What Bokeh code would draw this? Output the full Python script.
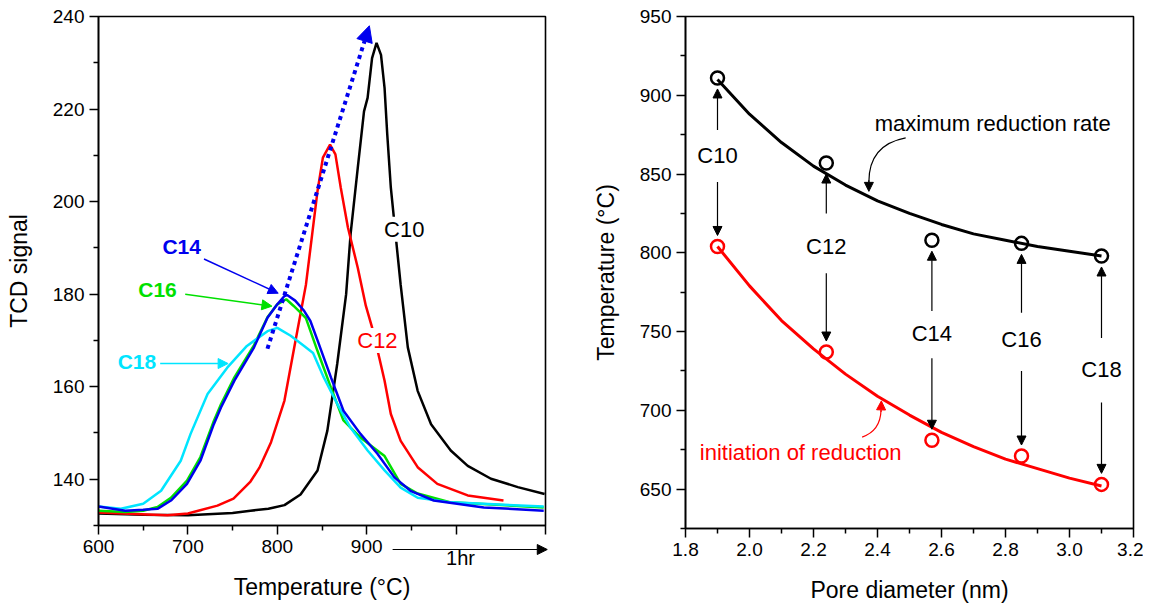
from bokeh.plotting import figure
from bokeh.layouts import row, column
from bokeh.models import Arrow, NormalHead, Label, FixedTicker, PrintfTickFormatter
from bokeh.embed import file_html
from bokeh.resources import INLINE

FONT = "Liberation Sans"

# ---------------- left panel data (TCD profiles) ----------------
c10_T = [600, 650, 700, 750, 770, 790, 808, 826, 845, 856, 867, 877, 882, 890, 897, 901, 906, 911,
         916, 920, 923, 927, 933, 938, 946, 957, 972, 994, 1013, 1039, 1069, 1099]
c10_S = [132.6, 132.3, 132.2, 132.7, 133.2, 133.6, 134.4, 136.7, 141.9, 150.5, 164.9, 180, 193, 207.3,
         219.5, 222.4, 231, 234.3, 231.7, 224.5, 214.5, 203, 191.5, 182, 168.5, 159.1, 151.9, 146.2,
         142.9, 140.1, 138.3, 136.8]

c12_T = [600, 640, 677, 700, 733, 751, 770, 780, 793, 808, 819, 832, 839, 845, 851, 859, 865, 871,
         879, 890, 899, 906, 914, 920, 927, 938, 957, 979, 1013, 1053]
c12_S = [132.8, 132.5, 132.2, 132.6, 134.3, 135.8, 139.5, 142.5, 148, 157, 168.5, 182, 192.9, 202.3,
         209.5, 212.3, 210.2, 203, 194.4, 185.7, 177.5, 172.8, 166.3, 161.3, 154.1, 148.3, 142.6,
         139, 136.5, 135.4]

c14_T = [600, 630, 650, 666, 681, 699, 714, 729, 737, 752, 774, 789, 800, 808, 811, 820, 830, 837,
         845, 860, 874, 893, 912, 931, 949, 975, 1031, 1098]
c14_S = [134.1, 133.2, 133.4, 133.6, 135.4, 139, 144, 151.9, 155.5, 161.3, 168.5, 174.9, 177.8, 179.6,
         179.8, 178.6, 176.4, 174.2, 170, 162, 154.8, 149.8, 145.5, 140.4, 137.5, 135.4, 133.9, 133.2]

c16_T = [600, 630, 650, 666, 681, 699, 714, 729, 737, 752, 774, 789, 800, 810, 818, 826, 832, 845,
         860, 874, 893, 910, 920, 938, 957, 994, 1098]
c16_S = [133.2, 132.9, 133.2, 134, 136, 139.7, 144.8, 152.6, 156.2, 162, 169, 175, 177.8, 178.9,
         177.5, 176, 174.8, 167.7, 159.8, 152.7, 149, 146.5, 145, 139, 136.9, 135, 133.9]

c18_T = [600, 625, 650, 670, 692, 703, 722, 744, 766, 789, 800, 815, 830, 840, 852, 867, 882, 901,
         920, 938, 957, 994, 1098]
c18_S = [134.1, 133.6, 134.7, 137.5, 144, 149.8, 158.4, 164.1, 168.8, 172, 172.7, 171, 168.8, 167.3,
         162, 156.3, 151.1, 146.2, 141.9, 138.2, 136, 135, 134.1]

left_xticks = [600, 700, 800, 900, 1000, 1100]
left_xminor = [650, 750, 850, 950, 1050]
left_yticks = [140, 160, 180, 200, 220, 240]
left_yminor = [130, 150, 170, 190, 210, 230]

# ---------------- right panel data ----------------
pore = [1.9, 2.24, 2.57, 2.85, 3.1]
t_max = [911, 857, 808, 806, 798]
t_init = [804, 737, 681, 671, 653]
samples = ["C10", "C12", "C14", "C16", "C18"]

fit_x = [1.9, 2.0, 2.1, 2.2, 2.3, 2.4, 2.5, 2.6, 2.7, 2.8, 2.9, 3.0, 3.1]
fit_max = [910, 888, 870, 855, 843, 833, 825, 818, 812, 808, 804, 801, 798]
fit_init = [804, 779, 757, 739, 723, 709, 697, 686, 677, 669, 663, 657, 652]

right_xticks = [1.8, 2.0, 2.2, 2.4, 2.6, 2.8, 3.0, 3.2]
right_xminor = [1.9, 2.1, 2.3, 2.5, 2.7, 2.9, 3.1]
right_yticks = [650, 700, 750, 800, 850, 900, 950]
right_yminor = [625, 675, 725, 775, 825, 875, 925]


def style(p):
    p.xgrid.visible = False
    p.ygrid.visible = False
    p.outline_line_color = "black"
    p.outline_line_width = 1.6
    p.outline_line_alpha = 1
    p.background_fill_color = "white"
    p.border_fill_color = "white"
    for ax in (p.xaxis[0], p.yaxis[0]):
        ax.axis_line_width = 1.6
        ax.major_tick_line_width = 1.5
        ax.minor_tick_line_width = 1.5
        ax.major_tick_in = 0
        ax.major_tick_out = 9
        ax.minor_tick_in = 0
        ax.minor_tick_out = 5
        ax.major_label_text_font = FONT
        ax.major_label_text_font_size = "19px"
        ax.major_label_text_color = "black"
        ax.axis_label_text_font = FONT
        ax.axis_label_text_font_size = "23px"
        ax.axis_label_text_font_style = "normal"
        ax.axis_label_text_color = "black"
        ax.major_label_standoff = 5


# ================= LEFT =================
p1 = figure(x_range=(600, 1100), y_range=(130, 240), frame_width=447, frame_height=509,
            min_border_left=98, min_border_right=20, min_border_top=16, min_border_bottom=80,
            output_backend="svg", toolbar_location=None)
style(p1)
p1.xaxis.ticker = FixedTicker(ticks=left_xticks, minor_ticks=left_xminor)
p1.xaxis.major_label_overrides = {1000: "", 1100: ""}
p1.yaxis.ticker = FixedTicker(ticks=left_yticks, minor_ticks=left_yminor)
p1.xaxis.axis_label = "Temperature (°C)"
p1.yaxis.axis_label = "TCD signal"
p1.yaxis.axis_label_standoff = 18
p1.xaxis.axis_label_standoff = 18

p1.line(c10_T, c10_S, line_color="black", line_width=2.5)
p1.line(c12_T, c12_S, line_color="#ff0000", line_width=2.5)
p1.line(c16_T, c16_S, line_color="#00e000", line_width=2.5)
p1.line(c18_T, c18_S, line_color="#00e5ff", line_width=2.5)
p1.line(c14_T, c14_S, line_color="#0000ee", line_width=2.5)

p1.add_layout(Label(x=942, y=194, text="C10", text_align="center", text_baseline="middle",
                    text_font=FONT, text_font_size="22px", text_color="black",
                    background_fill_color="white"))
p1.add_layout(Label(x=912, y=170, text="C12", text_align="center", text_baseline="middle",
                    text_font=FONT, text_font_size="22px", text_color="#ff0000",
                    background_fill_color="white"))
p1.add_layout(Label(x=693, y=190.2, text="C14", text_align="center", text_baseline="middle",
                    text_font=FONT, text_font_size="21px", text_font_style="bold", text_color="#0000ee"))
p1.add_layout(Label(x=666, y=181, text="C16", text_align="center", text_baseline="middle",
                    text_font=FONT, text_font_size="21px", text_font_style="bold", text_color="#00e000"))
p1.add_layout(Label(x=643, y=165.4, text="C18", text_align="center", text_baseline="middle",
                    text_font=FONT, text_font_size="21px", text_font_style="bold", text_color="#00e5ff"))

p1.add_layout(Arrow(x_start=718, y_start=187.6, x_end=801, y_end=180.2, line_color="#0000ee", line_width=1.5,
                    end=NormalHead(size=10, fill_color="#0000ee", line_color="#0000ee")))
p1.add_layout(Arrow(x_start=697, y_start=180, x_end=794, y_end=177.4, line_color="#00e000", line_width=1.5,
                    end=NormalHead(size=10, fill_color="#00e000", line_color="#00e000")))
p1.add_layout(Arrow(x_start=669, y_start=165, x_end=745, y_end=165, line_color="#00e5ff", line_width=1.5,
                    end=NormalHead(size=10, fill_color="#00e5ff", line_color="#00e5ff")))

p1.add_layout(Arrow(x_start=789, y_start=168.2, x_end=903, y_end=238, line_color="#0000ee", line_width=4,
                    line_dash="4 4",
                    end=NormalHead(size=16, fill_color="#0000ee", line_color="#0000ee")))

# transparent strip laid over the x tick-label row: the "1hr" arrow
p1b = figure(x_range=(600, 1116.8), y_range=(0, 1), frame_width=462, frame_height=50,
             min_border=0, min_border_left=98, min_border_right=5,
             x_axis_location=None, y_axis_location=None,
             output_backend="svg", toolbar_location=None, margin=(-70, 0, 0, 0))
p1b.grid.visible = False
p1b.outline_line_color = None
p1b.background_fill_color = None
p1b.border_fill_color = None
p1b.add_layout(Arrow(x_start=929, y_start=0.72, x_end=1102, y_end=0.72, line_color="black", line_width=1.2,
                     end=NormalHead(size=10, fill_color="black", line_color="black")))
p1b.add_layout(Label(x=1005, y=0.55, text="1hr", text_align="center", text_baseline="middle",
                     text_font=FONT, text_font_size="20px", text_color="black"))

# ================= RIGHT =================
p2 = figure(x_range=(1.8, 3.2), y_range=(625, 950), frame_width=448, frame_height=512,
            min_border_left=120, min_border_right=10, min_border_top=16, min_border_bottom=77,
            output_backend="svg", toolbar_location=None)
style(p2)
p2.xaxis.ticker = FixedTicker(ticks=right_xticks, minor_ticks=right_xminor)
p2.xaxis.formatter = PrintfTickFormatter(format="%.1f")
p2.yaxis.ticker = FixedTicker(ticks=right_yticks, minor_ticks=right_yminor)
p2.xaxis.axis_label = "Pore diameter (nm)"
p2.yaxis.axis_label = "Temperature (°C)"
p2.yaxis.axis_label_standoff = 18
p2.xaxis.axis_label_standoff = 18

p2.line(fit_x, fit_max, line_color="black", line_width=3)
p2.line(fit_x, fit_init, line_color="#ff0000", line_width=3)
p2.scatter(pore, t_max, size=13, marker="circle", fill_color=None, line_color="black", line_width=2.5)
p2.scatter(pore, t_init, size=13, marker="circle", fill_color=None, line_color="#ff0000", line_width=2.5)

label_y = [862, 804, 749, 745, 726]
up_start = [878, 825, 763, 762, 746]
dn_start = [845, 787, 733, 725, 705]
for i in range(len(pore)):
    p2.add_layout(Label(x=pore[i], y=label_y[i], text=samples[i], text_align="center",
                        text_baseline="middle", text_font=FONT, text_font_size="22px", text_color="black"))
    p2.add_layout(Arrow(x_start=pore[i], y_start=up_start[i], x_end=pore[i], y_end=t_max[i] - 7,
                        line_color="black", line_width=1.2,
                        end=NormalHead(size=9, fill_color="black", line_color="black")))
    p2.add_layout(Arrow(x_start=pore[i], y_start=dn_start[i], x_end=pore[i], y_end=t_init[i] + 7,
                        line_color="black", line_width=1.2,
                        end=NormalHead(size=9, fill_color="black", line_color="black")))

p2.add_layout(Label(x=2.76, y=882, text="maximum reduction rate", text_align="center", text_baseline="middle",
                    text_font=FONT, text_font_size="22px", text_color="black"))
p2.bezier(x0=[2.488], y0=[873], x1=[2.373], y1=[845], cx0=[2.41], cy0=[870], cx1=[2.373], cy1=[860],
          line_color="black", line_width=1.2)
p2.add_layout(Arrow(x_start=2.373, y_start=846, x_end=2.373, y_end=839, line_color="black", line_width=1.2,
                    end=NormalHead(size=9, fill_color="black", line_color="black")))

p2.add_layout(Label(x=2.16, y=673, text="initiation of reduction", text_align="center", text_baseline="middle",
                    text_font=FONT, text_font_size="22px", text_color="#ff0000"))
p2.bezier(x0=[2.352], y0=[683], x1=[2.411], y1=[700], cx0=[2.395], cy0=[686], cx1=[2.41], cy1=[693],
          line_color="#ff0000", line_width=1.2)
p2.add_layout(Arrow(x_start=2.411, y_start=699, x_end=2.412, y_end=706, line_color="#ff0000", line_width=1.2,
                    end=NormalHead(size=9, fill_color="#ff0000", line_color="#ff0000")))

layout = row(column(p1, p1b, spacing=0), p2, spacing=0)
open("out.html", "w").write(file_html(layout, INLINE))
